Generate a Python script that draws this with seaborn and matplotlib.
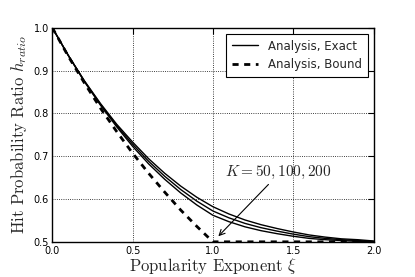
import numpy as np
import pandas as pd
import matplotlib
matplotlib.use("Agg")
import matplotlib.pyplot as plt
import seaborn as sns

# --- values ---
xi = [0.0, 0.1, 0.2, 0.3, 0.4, 0.5, 0.6, 0.7, 0.8, 0.9, 1.0,
      1.1, 1.2, 1.3, 1.4, 1.5, 1.6, 1.7, 1.8, 1.9, 2.0]
exact_k50 = [1.000, 0.935, 0.876, 0.823, 0.775, 0.733, 0.694, 0.660, 0.630, 0.604, 0.582,
             0.565, 0.551, 0.540, 0.531, 0.523, 0.516, 0.511, 0.507, 0.505, 0.502]
exact_k100 = [1.000, 0.935, 0.875, 0.821, 0.772, 0.728, 0.688, 0.653, 0.622, 0.595, 0.572,
              0.556, 0.543, 0.533, 0.525, 0.518, 0.512, 0.508, 0.505, 0.503, 0.501]
exact_k200 = [1.000, 0.935, 0.874, 0.819, 0.769, 0.723, 0.682, 0.646, 0.614, 0.586, 0.562,
              0.547, 0.535, 0.526, 0.519, 0.513, 0.508, 0.505, 0.503, 0.501, 0.500]

bound_xi = [0.0, 0.1, 0.2, 0.3, 0.4, 0.5, 0.6, 0.7, 0.8, 0.9, 1.0, 2.0]
bound = [1.000, 0.933, 0.871, 0.812, 0.758, 0.707, 0.660, 0.616, 0.574, 0.536, 0.500, 0.500]

x_ticks = [0.0, 0.5, 1.0, 1.5, 2.0]
y_ticks = [0.5, 0.6, 0.7, 0.8, 0.9, 1.0]

sns.set_style("white")
plt.rcParams["mathtext.fontset"] = "cm"
plt.rcParams["font.family"] = ["DejaVu Sans"]

fig = plt.figure(figsize=(4.15, 2.77), dpi=100)
ax = fig.add_axes([0.126, 0.127, 0.774, 0.773])

exact = pd.DataFrame({"xi": xi * 3,
                      "h": exact_k50 + exact_k100 + exact_k200,
                      "K": ["50"] * len(xi) + ["100"] * len(xi) + ["200"] * len(xi)})
for i, (k, grp) in enumerate(exact.groupby("K", sort=False)):
    sns.lineplot(data=grp, x="xi", y="h", ax=ax, color="black", linewidth=1.0,
                 label="Analysis, Exact" if i == 0 else None, legend=False)

sns.lineplot(x=bound_xi, y=bound, ax=ax, color="black", linewidth=2.0,
             label="Analysis, Bound", legend=False)
ax.lines[-1].set_dashes([2.2, 2.0])

ax.set_xlim(0, 2)
ax.set_ylim(0.5, 1.0)
ax.set_xticks(x_ticks)
ax.set_yticks(y_ticks)
ax.set_xticklabels([f"{t:.1f}" for t in x_ticks])
ax.set_yticklabels([f"{t:.1f}" for t in y_ticks])
ax.tick_params(direction="in", top=True, right=True, labelsize=7, length=4,
               width=0.8, colors="black")
ax.tick_params(axis="x", pad=3)
ax.tick_params(axis="y", pad=2.5)
ax.grid(True, color="black", linestyle=":", linewidth=0.6)
for s in ax.spines.values():
    s.set_color("black")
    s.set_linewidth(1.0)

ax.set_xlabel(r"Popularity Exponent $\xi$", fontsize=12, family="cmr10", labelpad=0)
ax.set_ylabel(r"Hit Probability Ratio $h_{ratio}$", fontsize=12, family="cmr10", labelpad=3)

# annotation text + arrow
ax.text(1.41, 0.661, r"$K = 50, 100, 200$", fontsize=11, ha="center", va="center")
ax.annotate("", xy=(1.034, 0.513), xytext=(1.346, 0.634),
            arrowprops=dict(arrowstyle="->", color="black", lw=0.8, shrinkA=0, shrinkB=0))

leg = ax.legend(loc="upper right", fontsize=8.5, frameon=True, fancybox=False,
                edgecolor="black", framealpha=1, handlelength=2.2, borderpad=0.5,
                labelspacing=0.5)
leg.get_frame().set_linewidth(0.8)

fig.savefig("out.png", dpi=100)
